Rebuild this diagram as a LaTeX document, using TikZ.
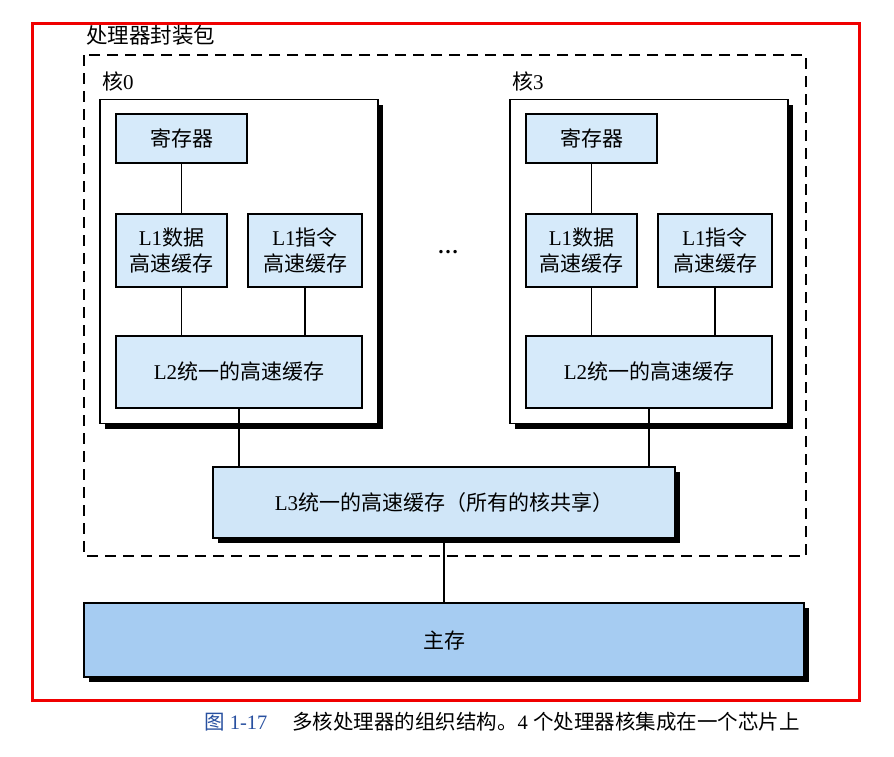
\documentclass[tikz,border=0pt]{standalone}
\usepackage{fontspec}
\setmainfont{Liberation Serif}
\newfontfamily\cjk{Noto Sans CJK SC}
\usetikzlibrary{shadows}
\definecolor{boxblue}{RGB}{214,234,250}
\definecolor{lthree}{RGB}{208,230,248}
\definecolor{memblue}{RGB}{166,204,242}
\definecolor{capblue}{RGB}{40,80,160}
\definecolor{frame}{RGB}{240,0,0}
\begin{document}
\begin{tikzpicture}[x=1pt,y=-1pt,
  txt/.style={font=\fontsize{21}{26}\selectfont},
  shadowed/.style={drop shadow={shadow xshift=5pt,shadow yshift=-5pt,fill=black,opacity=1}},
  corebox/.style={draw=black,line width=1.3pt,fill=white,shadowed,minimum width=278pt,minimum height=324pt,inner sep=0pt},
  unit/.style={draw=black,line width=1.3pt,fill=boxblue,inner sep=0pt,txt,align=center},
  bigbox/.style={draw=black,line width=1.3pt,shadowed,inner sep=0pt,txt},
  link/.style={line width=1.1pt},
  pkg/.style={draw=black,line width=1.4pt,dash pattern=on 11pt off 7pt}
]
\useasboundingbox (0,0) rectangle (894,756);
\fill[white] (0,0) rectangle (894,756);
% red frame
\draw[frame,line width=3pt] (32,23) rectangle (859,700);
% package
\node[anchor=west,inner sep=0pt,font=\fontsize{21.5}{26}\selectfont] (title) at (86,35) {\cjk 处理器封装包};
\draw[pkg] (84,55) rectangle (806,556);
% cores
\foreach \i/\dx in {0/0,3/410}{
  \begin{scope}[xshift=\dx pt]
    \node[txt,anchor=west,inner sep=0pt] (lab\i) at (102,81) {{\cjk 核}\i};
    \node[corebox] (core\i) at (239,261.5) {};
    \node[unit,minimum width=131pt,minimum height=49pt] (reg\i) at (181.5,138.5) {\cjk 寄存器};
    \node[unit,minimum width=111pt,minimum height=73pt] (lod\i) at (171.5,250.5) {L1{\cjk 数据}\\{\cjk 高速缓存}};
    \node[unit,minimum width=114pt,minimum height=73pt] (loi\i) at (305,250.5) {L1{\cjk 指令}\\{\cjk 高速缓存}};
    \node[unit,minimum width=246pt,minimum height=72pt] (ltwo\i) at (239,372) {L2{\cjk 统一的高速缓存}};
  \end{scope}
}
\node[txt,inner sep=0pt] (dots) at (448,252) {\textbf{\dots}};
% L3
\node[bigbox,fill=lthree,minimum width=462pt,minimum height=71pt] (lthr) at (444,502.5) {L3{\cjk 统一的高速缓存（所有的核共享）}};
% memory
\node[bigbox,fill=memblue,minimum width=720pt,minimum height=74pt] (mem) at (444,640) {\cjk 主存};
% connectors
\foreach \i in {0,3}{
  \draw[link] (reg\i.south) -- (reg\i.south |- lod\i.north);
  \draw[link] (reg\i.south |- lod\i.south) -- (reg\i.south |- ltwo\i.north);
  \draw[link] (loi\i.south) -- (loi\i.south |- ltwo\i.north);
  \draw[link] (ltwo\i.south) -- (ltwo\i.south |- lthr.north);
}
\draw[link] (lthr.south) -- (mem.north);
% caption
\node[anchor=west,inner sep=0pt,font=\fontsize{20.5}{24}\selectfont,text=capblue] (capnum) at (204,722) {{\cjk 图} 1-17};
\node[anchor=west,inner sep=0pt,font=\fontsize{20.5}{24}\selectfont] (captxt) at (292,722) {{\cjk 多核处理器的组织结构。}4 {\cjk 个处理器核集成在一个芯片上}};
\end{tikzpicture}
\end{document}
